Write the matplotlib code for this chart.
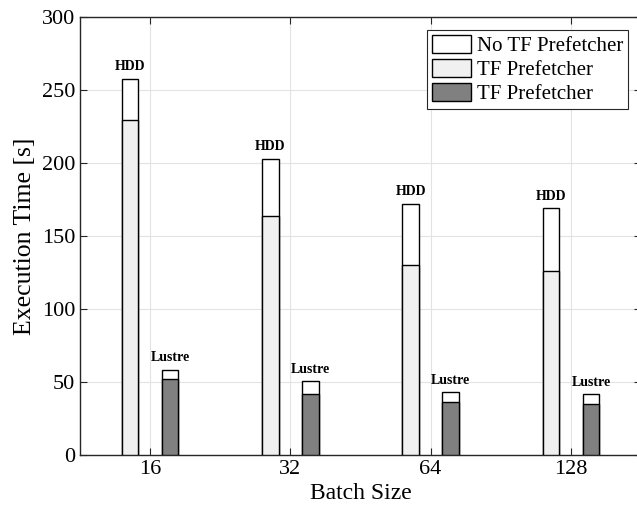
import numpy as np
import matplotlib
matplotlib.use('Agg')
import matplotlib.pyplot as plt
from matplotlib.patches import Patch

plt.rcParams['font.family'] = ['Liberation Serif', 'DejaVu Serif']

batch_sizes = ['16', '32', '64', '128']
hdd_no_tf = [257.5, 203, 172, 169]
hdd_tf = [229.5, 163.5, 130, 126]
lustre_no_tf = [58.5, 50.5, 43, 41.5]
lustre_tf = [52, 42, 36, 35]

x = np.arange(1, len(batch_sizes) + 1)
w = 0.118
off = 0.143

fig = plt.figure(figsize=(6.37, 5.17), dpi=100)
ax = fig.add_axes([80 / 637, 62 / 517, 561 / 637, 438 / 517])

ax.set_axisbelow(True)
ax.grid(True, color='#e3e3e3', linewidth=0.8)

ax.bar(x - off, hdd_no_tf, w, color='white', edgecolor='black', linewidth=1, zorder=2)
ax.bar(x - off, hdd_tf, w, color='#f0f0f0', edgecolor='black', linewidth=1, zorder=3)
ax.bar(x + off, lustre_no_tf, w, color='white', edgecolor='black', linewidth=1, zorder=2)
ax.bar(x + off, lustre_tf, w, color='#808080', edgecolor='black', linewidth=1, zorder=3)

for i in range(len(x)):
    ax.annotate('HDD', (x[i] - off, hdd_no_tf[i]), xytext=(0, 4), textcoords='offset points',
                ha='center', va='bottom', fontsize=10, fontweight='bold')
    ax.annotate('Lustre', (x[i] + off, lustre_no_tf[i]), xytext=(0, 4), textcoords='offset points',
                ha='center', va='bottom', fontsize=10, fontweight='bold')

ax.set_xlim(0.5, 4.5)
ax.set_ylim(0, 300)
ax.set_xticks(x)
ax.set_xticklabels(batch_sizes)
ax.set_yticks(np.arange(0, 301, 50))
ax.tick_params(direction='in', top=True, right=True, labelsize=16, length=5, color='#262626')
for s in ax.spines.values():
    s.set_color('#262626')
    s.set_linewidth(1)

ax.set_xlabel('Batch Size', fontsize=17, labelpad=3)
ax.set_ylabel('Execution Time [s]', fontsize=18.5, labelpad=4)

handles = [Patch(facecolor='white', edgecolor='black'),
           Patch(facecolor='#f0f0f0', edgecolor='black'),
           Patch(facecolor='#808080', edgecolor='black')]
leg = ax.legend(handles, ['No TF Prefetcher', 'TF Prefetcher', 'TF Prefetcher'],
                loc='upper right', bbox_to_anchor=(0.977, 0.970), fontsize=15,
                fancybox=False, framealpha=1, edgecolor='#262626',
                handlelength=1.9, handleheight=0.9, handletextpad=0.25,
                borderpad=0.25, labelspacing=0.15, borderaxespad=0)
leg.get_frame().set_linewidth(0.8)

fig.savefig('out.png', dpi=100)
